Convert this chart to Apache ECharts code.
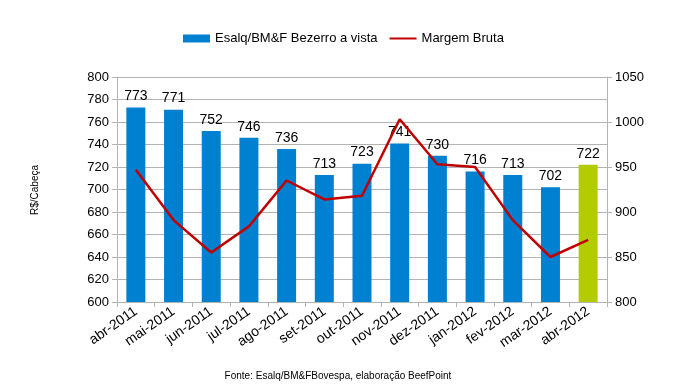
<!DOCTYPE html>
<html><head><meta charset="utf-8">
<script src="https://cdn.jsdelivr.net/npm/echarts@6/dist/echarts.min.js"></script>
<style>html,body{margin:0;padding:0;background:#fff}#c{width:676px;height:387px}</style>
</head><body><div id="c"></div>
<script>
var categories = ['abr-2011','mai-2011','jun-2011','jul-2011','ago-2011','set-2011','out-2011','nov-2011','dez-2011','jan-2012','fev-2012','mar-2012','abr-2012'];
var bezerro = [773,771,752,746,736,713,723,741,730,716,713,702,722];
var margem = [947,891,855,884,935,914,918,1003,953,950,891,850,869];
var leftTicks = [600,800,20];
var rightTicks = [800,1050,50];

var font = 'Liberation Sans, Arial, sans-serif';
var chart = echarts.init(document.getElementById('c'));
chart.setOption({
  animation:false,
  textStyle:{fontFamily:font},
  legend:{top:27,left:178,itemWidth:27,itemHeight:8,itemGap:12,
    textStyle:{fontSize:13,color:'#000',fontFamily:font},
    data:[{name:'Esalq/BM&F Bezerro a vista',icon:'rect'},
          {name:'Margem Bruta',icon:'path://M0,0L27,0L27,2L0,2Z',itemStyle:{color:'#c00000'}}]},
  grid:{left:117,right:69,top:77,bottom:85},
  graphic:[
    {type:'text',x:35,y:190,rotation:Math.PI/2,style:{text:'R$/Cabeça',font:'10px '+font,fill:'#000',textAlign:'center',textVerticalAlign:'middle'}},
    {type:'text',left:'center',top:371,style:{text:'Fonte: Esalq/BM&FBovespa, elaboração BeefPoint',font:'10px '+font,fill:'#000'}}
  ],
  xAxis:{type:'category',data:categories,
    axisLine:{lineStyle:{color:'#b3b3b3'}},
    axisTick:{show:true,alignWithLabel:false,length:5,lineStyle:{color:'#b3b3b3'}},
    axisLabel:{rotate:35,fontSize:14,color:'#000',margin:8,interval:0,fontFamily:font}},
  yAxis:[
    {type:'value',min:leftTicks[0],max:leftTicks[1],interval:leftTicks[2],
      axisLine:{show:true,lineStyle:{color:'#b3b3b3'}},
      axisTick:{show:true,length:5,lineStyle:{color:'#b3b3b3'}},
      splitLine:{lineStyle:{color:'#b3b3b3'}},
      axisLabel:{fontSize:13,color:'#000',margin:8,fontFamily:font}},
    {type:'value',min:rightTicks[0],max:rightTicks[1],interval:rightTicks[2],position:'right',
      axisLine:{show:true,lineStyle:{color:'#b3b3b3'}},
      axisTick:{show:true,length:5,lineStyle:{color:'#b3b3b3'}},
      splitLine:{show:false},
      axisLabel:{fontSize:13,color:'#000',margin:8,fontFamily:font,formatter:function(v){return String(v);}}}
  ],
  series:[
    {name:'Esalq/BM&F Bezerro a vista',type:'bar',barWidth:19,yAxisIndex:0,
      itemStyle:{color:'#0080d0'},
      data:bezerro.map(function(v,i){return i===bezerro.length-1?{value:v,itemStyle:{color:'#b3cc00'}}:v;}),
      label:{show:true,position:'top',fontSize:14,color:'#000',distance:4,fontFamily:font}},
    {name:'Margem Bruta',type:'line',yAxisIndex:1,data:margem,symbol:'none',
      itemStyle:{color:'#c00000'},lineStyle:{color:'#c00000',width:2.5},z:5}
  ]
});
</script></body></html>
